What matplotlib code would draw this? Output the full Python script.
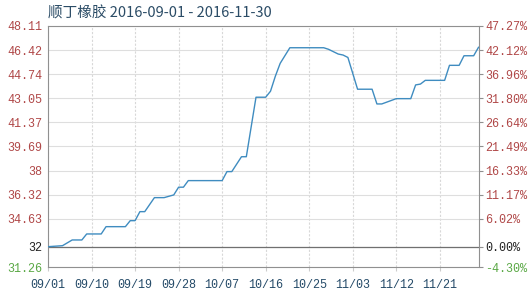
import matplotlib
matplotlib.use('Agg')
import matplotlib.pyplot as plt
import matplotlib.dates as mdates
import pandas as pd

# price series (vertices)
dates = ['2016-09-01', '2016-09-04', '2016-09-06', '2016-09-08', '2016-09-09', '2016-09-12',
         '2016-09-13', '2016-09-17', '2016-09-18', '2016-09-19', '2016-09-20', '2016-09-21',
         '2016-09-23', '2016-09-25', '2016-09-27', '2016-09-28', '2016-09-29', '2016-09-30',
         '2016-10-07', '2016-10-08', '2016-10-09', '2016-10-11', '2016-10-12', '2016-10-14',
         '2016-10-16', '2016-10-17', '2016-10-18', '2016-10-19', '2016-10-21', '2016-10-28',
         '2016-10-29', '2016-10-31', '2016-11-01', '2016-11-02', '2016-11-03', '2016-11-04',
         '2016-11-07', '2016-11-08', '2016-11-09', '2016-11-12', '2016-11-15', '2016-11-16',
         '2016-11-17', '2016-11-18', '2016-11-22', '2016-11-23', '2016-11-25', '2016-11-26',
         '2016-11-28', '2016-11-29']
prices = [32.68, 32.75, 33.15, 33.15, 33.57, 33.57,
          34.08, 34.08, 34.50, 34.50, 35.13, 35.13,
          36.11, 36.11, 36.30, 36.84, 36.84, 37.30,
          37.30, 37.93, 37.93, 38.97, 38.97, 43.13,
          43.13, 43.55, 44.60, 45.50, 46.59, 46.59,
          46.48, 46.15, 46.08, 45.91, 44.80, 43.69,
          43.69, 42.66, 42.66, 43.03, 43.03, 43.99,
          44.05, 44.31, 44.31, 45.36, 45.36, 46.03,
          46.03, 46.62]

base = 32.67
y_ticks = [31.26, 32.67, 34.63, 36.32, 38.0, 39.69, 41.37, 43.05, 44.74, 46.42, 48.11]
y_labels = ['31.26', '32', '34.63', '36.32', '38', '39.69', '41.37', '43.05', '44.74', '46.42', '48.11']
pct_labels = ['-4.30%', '0.00%', '6.02%', '11.17%', '16.33%', '21.49%', '26.64%', '31.80%',
              '36.96%', '42.12%', '47.27%']
x_ticks = ['2016-09-01', '2016-09-10', '2016-09-19', '2016-09-28', '2016-10-07',
           '2016-10-16', '2016-10-25', '2016-11-03', '2016-11-12', '2016-11-21']

RED = '#b04848'
GREEN = '#5aa845'
mono = ['Liberation Mono', 'DejaVu Sans Mono']

fig = plt.figure(figsize=(5.29, 2.94), dpi=100)
ax = fig.add_axes([48 / 529, 1 - 267 / 294, 430.5 / 529, 241 / 294])

x = pd.to_datetime(dates)
ax.plot(x, prices, color='#3f8cc0', lw=1.0, zorder=3)

ax.set_xlim(pd.Timestamp('2016-09-01'), pd.Timestamp('2016-11-29'))
ax.set_ylim(31.26, 48.11)

# grid
ax.set_yticks(y_ticks)
ax.set_yticklabels(y_labels)
ax.set_xticks(pd.to_datetime(x_ticks))
ax.xaxis.set_major_formatter(mdates.DateFormatter('%m/%d'))
ax.grid(axis='y', color='#dedede', lw=0.8, ls='-')
ax.grid(axis='x', color='#d8d8d8', lw=0.8, ls=(0, (2, 1.5)))
ax.axhline(base, color='#707070', lw=0.9, zorder=2)

for s in ax.spines.values():
    s.set_color('#909090')
    s.set_linewidth(0.8)

ax.tick_params(axis='y', length=0, pad=4, labelsize=8.5)
ax.tick_params(axis='x', length=3, color='#cccccc', pad=5.5, labelsize=8.5, labelcolor='#244a68')
for lab in ax.get_yticklabels() + ax.get_xticklabels():
    lab.set_family(mono)
for lab, v in zip(ax.get_yticklabels(), y_ticks):
    lab.set_color(RED if v > base + 0.01 else (GREEN if v < base - 0.01 else '#222222'))

# right axis with percent change
ax2 = ax.twinx()
ax2.set_ylim(ax.get_ylim())
ax2.set_yticks(y_ticks)
ax2.set_yticklabels(pct_labels)
ax2.tick_params(axis='y', length=3, color='#909090', pad=2, labelsize=8.5)
for lab, v in zip(ax2.get_yticklabels(), y_ticks):
    lab.set_family(mono)
    lab.set_color(RED if v > base + 0.01 else (GREEN if v < base - 0.01 else '#222222'))
for s in ax2.spines.values():
    s.set_visible(False)

fig.text(48 / 529, 1 - 13 / 294, '顺丁橡胶 2016-09-01 - 2016-11-30', fontsize=10.5,
         color='#2b4c66', va='center', ha='left',
         family=['Noto Sans CJK SC', 'DejaVu Sans'])

fig.savefig('out.png', dpi=100)
